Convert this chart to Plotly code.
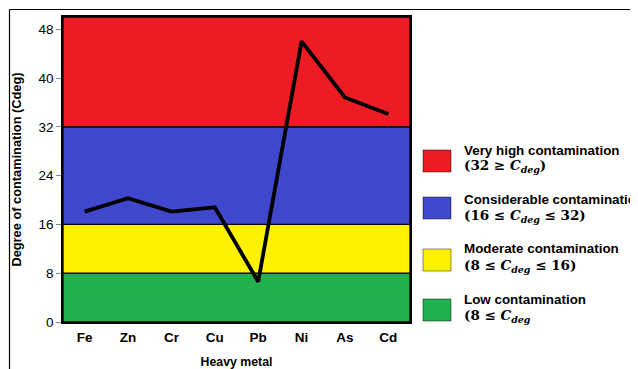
import plotly.graph_objects as go

metals = ["Fe", "Zn", "Cr", "Cu", "Pb", "Ni", "As", "Cd"]
cdeg = [18.1, 20.3, 18.1, 18.8, 6.6, 46.0, 36.8, 34.1]

band_bounds = [0, 8, 16, 32, 50]
band_colors = ["#22B14C", "#FFF200", "#3F48CC", "#ED1C24"]
y_ticks = [0, 8, 16, 24, 32, 40, 48]

legend_titles = ["Very high contamination", "Considerable contamination",
                 "Moderate contamination", "Low contamination"]
legend_math = ["<b>(32 ≥ <i>C</i><sub><i>deg</i></sub>)</b>",
               "<b>(16 ≤ <i>C</i><sub><i>deg</i></sub> ≤ 32)</b>",
               "<b>(8 ≤ <i>C</i><sub><i>deg</i></sub> ≤ 16)</b>",
               "<b>(8 ≤ <i>C</i><sub><i>deg</i></sub></b>"]
legend_colors = ["#ED1C24", "#3F48CC", "#FFF200", "#22B14C"]

# page body has an 8px margin, so work in reference pixels minus 8
OFF = 8
W, H = 638 - OFF, 369 - OFF
L, R, T, B = 63 - OFF, 410 - OFF, 17 - OFF, 322 - OFF


def px(x):
    return (x - OFF - L) / (R - L)


def py(y):
    return (B - (y - OFF)) / (B - T)


fig = go.Figure()
fig.add_trace(go.Scatter(x=metals, y=cdeg, mode="lines",
                         line=dict(color="black", width=3.8),
                         showlegend=False))

shapes = []
for i, c in enumerate(band_colors):
    shapes.append(dict(type="rect", xref="x domain", yref="y",
                       x0=0, x1=1, y0=band_bounds[i], y1=band_bounds[i + 1],
                       fillcolor=c, line=dict(color="black", width=1.3),
                       layer="below"))

# outer frame
shapes.append(dict(type="line", xref="paper", yref="paper",
                   x0=px(9.5), x1=px(9.5), y0=py(9.5), y1=py(380),
                   line=dict(color="black", width=1.2)))
shapes.append(dict(type="line", xref="paper", yref="paper",
                   x0=px(9.5), x1=px(660), y0=py(9.5), y1=py(9.5),
                   line=dict(color="black", width=1.2)))

annotations = []
box_tops = [150, 197, 249, 299]
line1_y = [150.5, 199.5, 248, 299.5]
line2_y = [166, 215.5, 266, 316]
for i in range(4):
    shapes.append(dict(type="rect", xref="paper", yref="paper",
                       x0=px(423), x1=px(451), y0=py(box_tops[i]), y1=py(box_tops[i] + 22),
                       fillcolor=legend_colors[i], line=dict(color="rgba(0,0,0,0.45)", width=1)))
    annotations.append(dict(xref="paper", yref="paper", x=px(462), y=py(line1_y[i]),
                            xanchor="left", yanchor="middle", showarrow=False,
                            text="<b>" + legend_titles[i] + "</b>",
                            font=dict(family="Arial, Liberation Sans", size=13.4, color="black")))
    annotations.append(dict(xref="paper", yref="paper", x=px(462), y=py(line2_y[i]),
                            xanchor="left", yanchor="middle", showarrow=False,
                            text=legend_math[i],
                            font=dict(family="DejaVu Serif", size=13.5, color="black")))

fig.update_layout(
    width=W, height=H,
    margin=dict(l=L, r=W - R, t=T, b=H - B, autoexpand=False),
    paper_bgcolor="white", plot_bgcolor="white",
    shapes=shapes, annotations=annotations,
    xaxis=dict(range=[-0.5, 7.5], showgrid=False, zeroline=False, automargin=False,
               showline=True, linecolor="black", linewidth=1.5, mirror=True,
               ticks="outside", ticklen=2, tickcolor="rgba(0,0,0,0)",
               tickfont=dict(family="Arial, Liberation Sans", size=13.5, color="black"),
               tickprefix="<b>", ticksuffix="</b>",
               title=dict(text="<b>Heavy metal</b>", standoff=22,
                          font=dict(family="Arial, Liberation Sans", size=12.3, color="black"))),
    yaxis=dict(range=[0, 50], tickvals=y_ticks, showgrid=False, zeroline=False, automargin=False,
               showline=True, linecolor="black", linewidth=1.5, mirror=True,
               ticks="outside", ticklen=5, tickcolor="#888888",
               tickprefix="<b>", ticksuffix="</b>",
               tickfont=dict(family="Arial, Liberation Sans", size=13.5, color="black"),
               title=dict(text="<b>Degree of contamination (Cdeg)</b>", standoff=14,
                          font=dict(family="Arial, Liberation Sans", size=12.8, color="black"))),
)

fig.write_html("out.html")
